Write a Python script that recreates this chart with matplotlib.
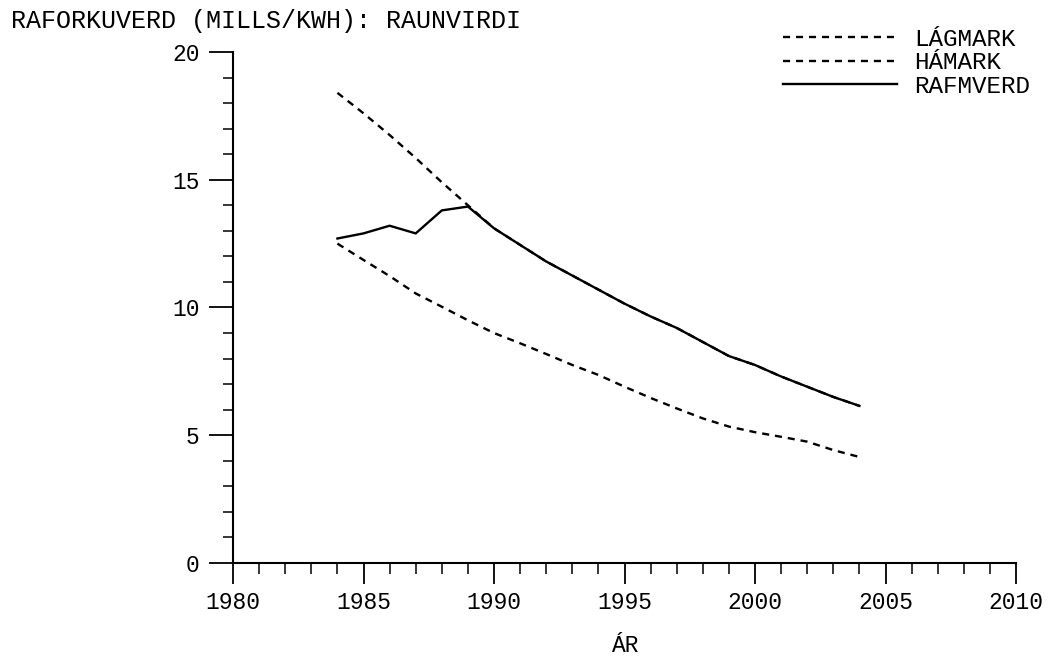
import matplotlib
matplotlib.use("Agg")
import matplotlib.pyplot as plt
from matplotlib.ticker import MultipleLocator

years = list(range(1984, 2005))
lagmark = [12.5, 11.86, 11.23, 10.55, 10.03, 9.5, 9.0, 8.6, 8.18, 7.75, 7.36,
           6.9, 6.46, 6.05, 5.66, 5.34, 5.12, 4.94, 4.75, 4.42, 4.15]
hamark = [18.4, 17.6, 16.75, 15.85, 14.9, 14.0, 13.1, 12.45, 11.8, 11.25, 10.7,
          10.15, 9.65, 9.2, 8.65, 8.1, 7.75, 7.3, 6.9, 6.5, 6.15]
rafmverd = [12.7, 12.9, 13.2, 12.9, 13.8, 13.95, 13.1, 12.45, 11.8, 11.25, 10.7,
            10.15, 9.65, 9.2, 8.65, 8.1, 7.75, 7.3, 6.9, 6.5, 6.15]

title = "RAFORKUVERD (MILLS/KWH): RAUNVIRDI"
labels = ["LÁGMARK", "HÁMARK", "RAFMVERD"]
xticks = [1980, 1985, 1990, 1995, 2000, 2005, 2010]
yticks = [0, 5, 10, 15, 20]

plt.rcParams['font.family'] = ['Liberation Mono', 'DejaVu Sans Mono']

fig = plt.figure(figsize=(10.52, 6.62), dpi=100)
ax = fig.add_axes([0.2215, 0.1495, 0.7443, 0.772])

ax.plot(years, lagmark, color='black', lw=1.7, dashes=(3, 2.5), label=labels[0])
ax.plot(years, hamark, color='black', lw=1.7, dashes=(3, 2.5), label=labels[1])
ax.plot(years, rafmverd, color='black', lw=1.7, label=labels[2])

ax.set_xlim(1980, 2010)
ax.set_ylim(0, 20)
ax.set_xticks(xticks)
ax.set_yticks(yticks)
ax.xaxis.set_minor_locator(MultipleLocator(1))
ax.yaxis.set_minor_locator(MultipleLocator(1))

for s in ['top', 'right']:
    ax.spines[s].set_visible(False)
for s in ['left', 'bottom']:
    ax.spines[s].set_linewidth(1.5)

ax.tick_params(axis='both', which='major', direction='out', width=1.3,
               labelsize=16.5)
ax.tick_params(axis='both', which='minor', direction='out', width=1.1)
ax.tick_params(axis='x', which='major', length=15, pad=5)
ax.tick_params(axis='x', which='minor', length=8)
ax.tick_params(axis='y', which='major', length=17, pad=7)
ax.tick_params(axis='y', which='minor', length=7)

ax.set_xlabel("ÁR", fontsize=16.5)
ax.xaxis.set_label_coords(0.5, -0.138)

fig.text(0.0105, 0.958, title, fontsize=18, ha='left', va='baseline')

leg = ax.legend(loc='upper right', bbox_to_anchor=(0.979, 0.958),
                bbox_transform=fig.transFigure, frameon=False,
                fontsize=17.5, handlelength=4.7, handletextpad=0.7,
                labelspacing=0.02, borderpad=0, borderaxespad=0)

fig.savefig("out.png", dpi=100)
